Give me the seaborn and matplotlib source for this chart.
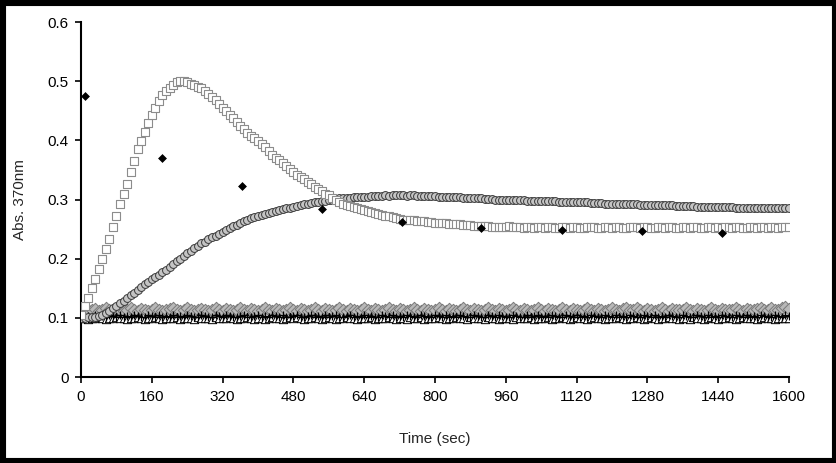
import numpy as np
import pandas as pd
import matplotlib
matplotlib.use("Agg")
import matplotlib.pyplot as plt
import seaborn as sns
from matplotlib.patches import Rectangle

# sampling grid: one reading every 8 s (from marker spacing)
tempo = np.arange(0, 1601, 8)

quadrados = [
    0.105, 0.120, 0.134, 0.150, 0.165, 0.182, 0.200, 0.217, 0.234, 0.253,
    0.273, 0.293, 0.309, 0.326, 0.346, 0.365, 0.385, 0.399, 0.414, 0.430,
    0.443, 0.455, 0.466, 0.477, 0.484, 0.489, 0.494, 0.498, 0.500, 0.500,
    0.498, 0.496, 0.493, 0.491, 0.488, 0.483, 0.479, 0.474, 0.468, 0.461,
    0.455, 0.450, 0.443, 0.437, 0.431, 0.425, 0.419, 0.413, 0.408, 0.404,
    0.399, 0.394, 0.389, 0.382, 0.375, 0.370, 0.366, 0.361, 0.356, 0.351,
    0.346, 0.342, 0.338, 0.334, 0.330, 0.326, 0.322, 0.318, 0.314, 0.310,
    0.307, 0.303, 0.300, 0.296, 0.293, 0.291, 0.289, 0.287, 0.285, 0.284,
    0.283, 0.281, 0.279, 0.277, 0.276, 0.274, 0.273, 0.272, 0.270, 0.269,
    0.267, 0.266, 0.265, 0.265, 0.265, 0.264, 0.264, 0.263, 0.262, 0.262,
    0.261, 0.261, 0.260, 0.260, 0.259, 0.259, 0.258, 0.258, 0.257, 0.257,
    0.257, 0.256, 0.256, 0.255, 0.255, 0.255, 0.254, 0.254, 0.253, 0.253,
    0.254, 0.255, 0.254, 0.253, 0.253, 0.252, 0.253, 0.253, 0.252, 0.253,
    0.253, 0.252, 0.253, 0.253, 0.252, 0.252, 0.253, 0.253, 0.252, 0.253,
    0.253, 0.252, 0.252, 0.253, 0.254, 0.253, 0.252, 0.252, 0.253, 0.253,
    0.252, 0.253, 0.253, 0.252, 0.252, 0.253, 0.254, 0.253, 0.252, 0.253,
    0.253, 0.252, 0.252, 0.253, 0.253, 0.252, 0.253, 0.253, 0.252, 0.252,
    0.253, 0.253, 0.252, 0.253, 0.253, 0.252, 0.252, 0.253, 0.253, 0.252,
    0.253, 0.252, 0.253, 0.253, 0.252, 0.253, 0.253, 0.252, 0.252, 0.253,
    0.253, 0.252, 0.253, 0.253, 0.252, 0.253, 0.253, 0.252, 0.253, 0.253,
    0.253,
]

circulos = [
    0.100, 0.100, 0.101, 0.101, 0.102, 0.103, 0.105, 0.108, 0.112, 0.116,
    0.120, 0.125, 0.129, 0.134, 0.138, 0.142, 0.147, 0.152, 0.157, 0.161,
    0.165, 0.169, 0.173, 0.177, 0.181, 0.186, 0.191, 0.196, 0.200, 0.205,
    0.209, 0.213, 0.218, 0.222, 0.226, 0.229, 0.233, 0.236, 0.239, 0.242,
    0.245, 0.249, 0.252, 0.255, 0.257, 0.260, 0.263, 0.265, 0.268, 0.270,
    0.272, 0.274, 0.275, 0.277, 0.279, 0.280, 0.282, 0.284, 0.285, 0.286,
    0.288, 0.289, 0.290, 0.292, 0.293, 0.294, 0.295, 0.296, 0.297, 0.298,
    0.299, 0.300, 0.301, 0.302, 0.302, 0.303, 0.303, 0.304, 0.304, 0.305,
    0.305, 0.305, 0.306, 0.306, 0.306, 0.306, 0.307, 0.306, 0.307, 0.307,
    0.307, 0.307, 0.306, 0.307, 0.307, 0.306, 0.306, 0.306, 0.306, 0.306,
    0.306, 0.305, 0.305, 0.305, 0.305, 0.305, 0.304, 0.304, 0.303, 0.303,
    0.303, 0.302, 0.302, 0.302, 0.301, 0.301, 0.301, 0.300, 0.300, 0.300,
    0.300, 0.300, 0.299, 0.299, 0.299, 0.299, 0.298, 0.298, 0.298, 0.298,
    0.297, 0.297, 0.297, 0.297, 0.297, 0.296, 0.296, 0.296, 0.296, 0.296,
    0.295, 0.295, 0.295, 0.295, 0.294, 0.294, 0.294, 0.294, 0.293, 0.293,
    0.293, 0.293, 0.293, 0.292, 0.292, 0.292, 0.292, 0.292, 0.291, 0.291,
    0.291, 0.291, 0.291, 0.290, 0.290, 0.290, 0.290, 0.290, 0.289, 0.289,
    0.289, 0.289, 0.289, 0.289, 0.288, 0.288, 0.288, 0.288, 0.288, 0.287,
    0.287, 0.287, 0.287, 0.287, 0.287, 0.286, 0.286, 0.286, 0.286, 0.286,
    0.286, 0.286, 0.285, 0.285, 0.285, 0.285, 0.285, 0.285, 0.285, 0.285,
    0.285,
]

losangos_cinza = [
    0.108, 0.112, 0.114, 0.113, 0.115, 0.112, 0.114, 0.116, 0.113, 0.112,
    0.115, 0.113, 0.111, 0.114, 0.116, 0.113, 0.112, 0.115, 0.114, 0.112,
    0.113, 0.116, 0.114, 0.112, 0.113, 0.115, 0.117, 0.113, 0.112, 0.114,
    0.116, 0.113, 0.112, 0.114, 0.115, 0.113, 0.111, 0.114, 0.116, 0.113,
    0.112, 0.115, 0.114, 0.112, 0.113, 0.116, 0.114, 0.112, 0.115, 0.113,
    0.111, 0.114, 0.116, 0.113, 0.112, 0.115, 0.114, 0.112, 0.113, 0.116,
    0.114, 0.112, 0.115, 0.113, 0.111, 0.114, 0.116, 0.113, 0.112, 0.115,
    0.114, 0.112, 0.113, 0.116, 0.114, 0.112, 0.115, 0.113, 0.111, 0.114,
    0.116, 0.113, 0.112, 0.115, 0.114, 0.112, 0.113, 0.116, 0.114, 0.112,
    0.115, 0.113, 0.111, 0.114, 0.117, 0.113, 0.112, 0.115, 0.114, 0.112,
    0.113, 0.116, 0.114, 0.112, 0.115, 0.113, 0.111, 0.114, 0.116, 0.113,
    0.112, 0.115, 0.114, 0.112, 0.113, 0.116, 0.114, 0.112, 0.115, 0.113,
    0.111, 0.114, 0.116, 0.113, 0.112, 0.115, 0.114, 0.112, 0.113, 0.116,
    0.114, 0.112, 0.115, 0.113, 0.112, 0.114, 0.117, 0.113, 0.112, 0.115,
    0.114, 0.112, 0.113, 0.116, 0.114, 0.112, 0.115, 0.113, 0.112, 0.114,
    0.116, 0.113, 0.112, 0.115, 0.117, 0.113, 0.113, 0.116, 0.114, 0.112,
    0.115, 0.113, 0.112, 0.114, 0.117, 0.114, 0.112, 0.115, 0.114, 0.113,
    0.113, 0.116, 0.114, 0.112, 0.115, 0.113, 0.112, 0.114, 0.117, 0.113,
    0.112, 0.115, 0.114, 0.113, 0.113, 0.116, 0.114, 0.112, 0.115, 0.113,
    0.113, 0.115, 0.117, 0.114, 0.113, 0.116, 0.114, 0.113, 0.116, 0.118,
    0.115,
]

cruzes = [
    0.100, 0.102, 0.103, 0.101, 0.104, 0.102, 0.103, 0.101, 0.104, 0.103,
    0.102, 0.104, 0.101, 0.103, 0.102, 0.104, 0.103, 0.101, 0.102, 0.104,
    0.103, 0.101, 0.104, 0.102, 0.103, 0.102, 0.104, 0.101, 0.103, 0.102,
    0.104, 0.103, 0.101, 0.102, 0.104, 0.103, 0.102, 0.101, 0.104, 0.103,
    0.102, 0.104, 0.103, 0.101, 0.102, 0.103, 0.104, 0.102, 0.101, 0.103,
    0.104, 0.102, 0.103, 0.101, 0.104, 0.103, 0.102, 0.104, 0.101, 0.102,
    0.103, 0.104, 0.102, 0.101, 0.103, 0.104, 0.102, 0.103, 0.101, 0.104,
    0.102, 0.103, 0.104, 0.101, 0.102, 0.103, 0.104, 0.102, 0.103, 0.101,
    0.104, 0.102, 0.103, 0.102, 0.101, 0.104, 0.103, 0.102, 0.104, 0.101,
    0.103, 0.102, 0.104, 0.103, 0.101, 0.102, 0.104, 0.103, 0.102, 0.101,
    0.104, 0.103, 0.102, 0.104, 0.101, 0.103, 0.102, 0.104, 0.103, 0.101,
    0.102, 0.104, 0.103, 0.102, 0.101, 0.104, 0.103, 0.102, 0.104, 0.103,
    0.101, 0.102, 0.104, 0.103, 0.102, 0.101, 0.104, 0.102, 0.103, 0.104,
    0.101, 0.103, 0.102, 0.104, 0.103, 0.101, 0.102, 0.104, 0.103, 0.102,
    0.104, 0.101, 0.103, 0.102, 0.104, 0.103, 0.101, 0.102, 0.104, 0.103,
    0.102, 0.104, 0.101, 0.103, 0.102, 0.104, 0.103, 0.102, 0.101, 0.104,
    0.103, 0.102, 0.104, 0.101, 0.103, 0.102, 0.104, 0.103, 0.101, 0.102,
    0.104, 0.103, 0.102, 0.101, 0.104, 0.103, 0.102, 0.104, 0.101, 0.103,
    0.102, 0.104, 0.103, 0.101, 0.102, 0.104, 0.103, 0.102, 0.104, 0.101,
    0.103, 0.102, 0.104, 0.103, 0.101, 0.102, 0.104, 0.103, 0.102, 0.104,
    0.103,
]

triangulos = [
    0.099, 0.100, 0.098, 0.100, 0.099, 0.101, 0.099, 0.098, 0.100, 0.099,
    0.101, 0.099, 0.100, 0.098, 0.099, 0.100, 0.101, 0.099, 0.098, 0.100,
    0.099, 0.101, 0.100, 0.098, 0.099, 0.100, 0.099, 0.101, 0.098, 0.100,
    0.100, 0.099, 0.098, 0.101, 0.099, 0.100, 0.099, 0.098, 0.101, 0.100,
    0.099, 0.100, 0.101, 0.099, 0.098, 0.100, 0.099, 0.101, 0.100, 0.098,
    0.100, 0.099, 0.098, 0.100, 0.101, 0.099, 0.100, 0.098, 0.099, 0.101,
    0.099, 0.101, 0.100, 0.098, 0.099, 0.100, 0.101, 0.099, 0.098, 0.100,
    0.101, 0.099, 0.098, 0.100, 0.099, 0.101, 0.100, 0.099, 0.098, 0.100,
    0.099, 0.100, 0.101, 0.098, 0.099, 0.100, 0.099, 0.101, 0.100, 0.098,
    0.100, 0.099, 0.098, 0.101, 0.100, 0.099, 0.101, 0.098, 0.099, 0.100,
    0.099, 0.101, 0.100, 0.098, 0.099, 0.100, 0.101, 0.099, 0.100, 0.098,
    0.101, 0.099, 0.100, 0.099, 0.098, 0.101, 0.100, 0.099, 0.098, 0.100,
    0.099, 0.100, 0.098, 0.101, 0.099, 0.100, 0.099, 0.101, 0.098, 0.100,
    0.100, 0.099, 0.101, 0.098, 0.100, 0.099, 0.101, 0.100, 0.098, 0.099,
    0.101, 0.100, 0.099, 0.098, 0.100, 0.101, 0.099, 0.100, 0.098, 0.099,
    0.100, 0.099, 0.101, 0.100, 0.098, 0.099, 0.100, 0.101, 0.099, 0.098,
    0.099, 0.101, 0.100, 0.098, 0.099, 0.100, 0.101, 0.099, 0.100, 0.098,
    0.100, 0.099, 0.098, 0.101, 0.100, 0.099, 0.098, 0.100, 0.101, 0.099,
    0.098, 0.100, 0.099, 0.101, 0.100, 0.098, 0.099, 0.101, 0.100, 0.099,
    0.100, 0.098, 0.099, 0.101, 0.100, 0.099, 0.098, 0.100, 0.099, 0.100,
    0.099,
]

# pontos pretos esparsos
tempo_pretos = [10, 183, 363, 544, 725, 905, 1087, 1268, 1449]
losangos_pretos = [0.475, 0.370, 0.323, 0.284, 0.262, 0.252, 0.249, 0.246, 0.244]

sns.set_style("white")
plt.rcParams['font.family'] = ['Liberation Sans', 'DejaVu Sans']

fig = plt.figure(figsize=(8.37, 4.63), dpi=100)
fig.patch.set_facecolor('white')
ax = fig.add_axes([0.0968, 0.1857, 0.8459, 0.7667])

df = pd.DataFrame({'t': tempo, 'q': quadrados, 'c': circulos,
                   'dg': losangos_cinza, 'p': cruzes, 'tr': triangulos})
dfp = pd.DataFrame({'t': tempo_pretos, 'y': losangos_pretos})

sns.scatterplot(data=df, x='t', y='dg', ax=ax, marker='D', s=40,
                color='#b8b8b8', edgecolor='#7a7a7a', linewidth=0.7, zorder=2)
sns.scatterplot(data=df, x='t', y='tr', ax=ax, marker='^', s=36,
                facecolor='white', edgecolor='black', linewidth=0.7, zorder=3)
sns.scatterplot(data=df, x='t', y='p', ax=ax, marker='+', s=30,
                color='black', linewidth=0.9, zorder=4)
sns.scatterplot(data=df, x='t', y='c', ax=ax, marker='o', s=32,
                color='#c4c4c4', edgecolor='#3a3a3a', linewidth=0.7, zorder=5)
sns.scatterplot(data=df, x='t', y='q', ax=ax, marker='s', s=26,
                facecolor='white', edgecolor='#8c8c8c', linewidth=0.8, zorder=6)
sns.scatterplot(data=dfp, x='t', y='y', ax=ax, marker='D', s=16,
                color='black', edgecolor='black', linewidth=0.5, zorder=7)

ax.set_xlim(0, 1600)
ax.set_ylim(0, 0.6)
ax.set_xticks(range(0, 1601, 160))
ax.set_yticks([0, 0.1, 0.2, 0.3, 0.4, 0.5, 0.6])
ax.set_yticklabels(['0', '0.1', '0.2', '0.3', '0.4', '0.5', '0.6'])
ax.set_xlabel('Time (sec)', fontsize=11)
ax.set_ylabel('Abs. 370nm', fontsize=11)
ax.xaxis.set_label_coords(0.5, -0.155)
ax.yaxis.set_label_coords(-0.077, 0.5)

for lado in ['top', 'right']:
    ax.spines[lado].set_visible(False)
for lado in ['left', 'bottom']:
    ax.spines[lado].set_linewidth(1.5)
    ax.spines[lado].set_color('black')
ax.tick_params(axis='both', direction='out', length=4, width=1.2,
               color='black', labelsize=11, labelcolor='black', pad=5,
               left=True, bottom=True)

# moldura preta da figura
fig.add_artist(Rectangle((0, 0), 1, 1, transform=fig.transFigure, fill=False,
                         edgecolor='black', linewidth=8, zorder=10))

fig.savefig('out.png', dpi=100, facecolor='white')
